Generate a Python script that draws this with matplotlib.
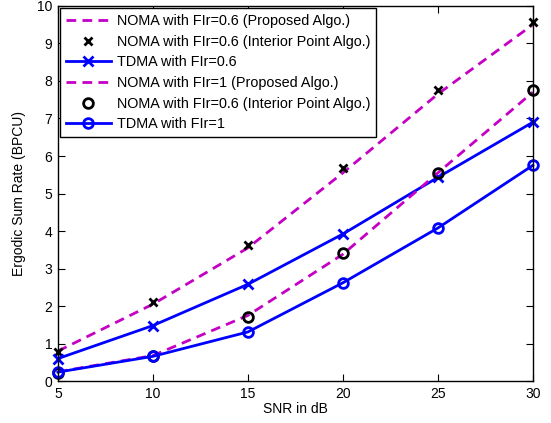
import numpy as np
import matplotlib
matplotlib.use("Agg")
from matplotlib import pyplot as plt

plt.rcParams["font.family"] = ["Liberation Sans", "DejaVu Sans"]
plt.rcParams["lines.scale_dashes"] = False

snr = [5, 10, 15, 20, 25, 30]
noma06_prop = [0.8, 2.05, 3.55, 5.55, 7.65, 9.5]
noma06_ip = [0.77, 2.1, 3.63, 5.67, 7.76, 9.57]
tdma06 = [0.6, 1.48, 2.58, 3.92, 5.43, 6.9]
noma1_prop = [0.25, 0.68, 1.75, 3.38, 5.55, 7.7]
noma1_ip = [0.22, 0.67, 1.71, 3.41, 5.55, 7.77]
tdma1 = [0.24, 0.66, 1.31, 2.62, 4.08, 5.75]

labels = [
    "NOMA with FIr=0.6 (Proposed Algo.)",
    "NOMA with FIr=0.6 (Interior Point Algo.)",
    "TDMA with FIr=0.6",
    "NOMA with FIr=1 (Proposed Algo.)",
    "NOMA with FIr=0.6 (Interior Point Algo.)",
    "TDMA with FIr=1",
]

mag = "#c400c4"
blue = "#0000ff"

fig = plt.figure(figsize=(5.51, 4.23), dpi=100)
ax = fig.add_axes([0.105, 0.099, 0.862, 0.887])

ax.plot(snr, noma06_prop, ls="--", dashes=(7, 4.5), lw=2, c=mag, label=labels[0])
ax.plot(snr, noma06_ip, ls="none", marker="x", ms=6, mew=2, c="k", label=labels[1],
        clip_on=False)
ax.plot(snr, tdma06, ls="-", lw=2, c=blue, marker="x", ms=7, mew=2, label=labels[2],
        clip_on=False)
ax.plot(snr, noma1_prop, ls="--", dashes=(7, 4.5), lw=2, c=mag, label=labels[3])
ax.plot(snr, noma1_ip, ls="none", marker="o", ms=7, mew=2, mfc="none", c="k",
        label=labels[4], clip_on=False)
ax.plot(snr, tdma1, ls="-", lw=2, c=blue, marker="o", ms=7, mew=2, mfc="none",
        label=labels[5], clip_on=False)

ax.set_xlim(5, 30)
ax.set_ylim(0, 10)
ax.set_xticks(range(5, 31, 5))
ax.set_yticks(range(0, 11))
ax.tick_params(direction="in", top=True, right=True, length=5, width=0.8,
               labelsize=10, pad=4)
for s in ax.spines.values():
    s.set_linewidth(1)
ax.set_xlabel("SNR in dB", fontsize=10, labelpad=1)
ax.set_ylabel("Ergodic Sum Rate (BPCU)", fontsize=10, labelpad=8)

leg = ax.legend(loc="upper left", fontsize=10.4, borderaxespad=0.15, frameon=True,
                fancybox=False, edgecolor="k", framealpha=1, handlelength=3.1,
                handletextpad=0.4, labelspacing=0.46, borderpad=0.42)
leg.get_frame().set_linewidth(1)
leg.set_zorder(5)

fig.savefig("out.png", dpi=100)
